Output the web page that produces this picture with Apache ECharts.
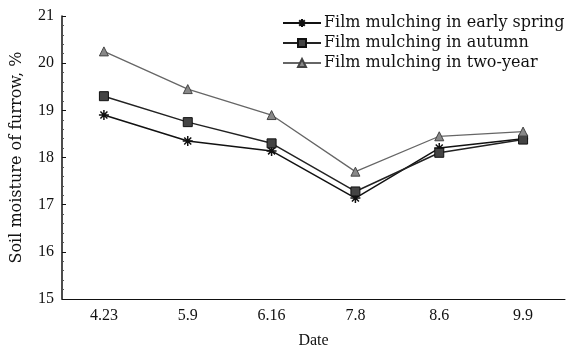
<!DOCTYPE html>
<html>
<head>
<meta charset="utf-8">
<script src="https://cdn.jsdelivr.net/npm/echarts@6/dist/echarts.min.js"></script>
<style>
html,body{margin:0;padding:0;background:#fff;}
#chart{width:569px;height:351px;}
</style>
</head>
<body>
<div id="chart"></div>
<script>
var dates = ["4.23", "5.9", "6.16", "7.8", "8.6", "9.9"];
var earlySpring = [18.9, 18.35, 18.14, 17.14, 18.2, 18.4];
var autumn = [19.3, 18.75, 18.3, 17.28, 18.1, 18.38];
var twoYear = [20.25, 19.45, 18.9, 17.7, 18.45, 18.55];
var seriesNames = ["Film mulching in early spring", "Film mulching in autumn", "Film mulching in two-year"];

var font = "Liberation Serif";
var wide = "DejaVu Serif";
var star = "path://M5,0L5,10M0,5L10,5M1.5,1.5L8.5,8.5M8.5,1.5L1.5,8.5";

var chart = echarts.init(document.getElementById("chart"));
chart.setOption({
	animation: false,
	backgroundColor: "#fff",
	textStyle: {fontFamily: font},
	grid: {left: 62, right: 4, top: 16, bottom: 52, outerBoundsMode: "none"},
	legend: {
		left: 277, top: 10, orient: "vertical", itemGap: 4,
		itemWidth: 38, itemHeight: 10,
		textStyle: {fontFamily: wide, fontSize: 16, color: "#111", padding: [0, 0, 0, -2]},
		data: seriesNames
	},
	xAxis: {
		type: "category", data: dates, boundaryGap: true,
		name: "Date", nameLocation: "middle", nameGap: 34,
		nameTextStyle: {fontFamily: font, fontSize: 16, color: "#111"},
		axisLine: {lineStyle: {color: "#111", width: 1}},
		axisTick: {inside: true, length: 4, lineStyle: {color: "#111"}},
		axisLabel: {fontFamily: font, fontSize: 16, color: "#111", margin: 9}
	},
	yAxis: {
		type: "value", min: 15, max: 21, interval: 1,
		name: "Soil moisture of furrow, %", nameLocation: "middle", nameGap: 37,
		nameTextStyle: {fontFamily: wide, fontSize: 16, color: "#111"},
		axisLine: {show: true, lineStyle: {color: "#111", width: 1.5}},
		axisTick: {show: true, inside: true, length: 4, lineStyle: {color: "#111"}},
		minorTick: {show: true, splitNumber: 5, length: 2, lineStyle: {color: "#555"}},
		splitLine: {show: false},
		axisLabel: {fontFamily: font, fontSize: 16, color: "#111", margin: 8}
	},
	series: [
		{
			name: seriesNames[0], type: "line", data: earlySpring,
			symbol: star, symbolSize: 10,
			lineStyle: {color: "#111", width: 1.5},
			itemStyle: {color: "#111", borderColor: "#111", borderWidth: 1.5}
		},
		{
			name: seriesNames[1], type: "line", data: autumn,
			symbol: "rect", symbolSize: 9,
			lineStyle: {color: "#222", width: 1.5},
			itemStyle: {color: "#444", borderColor: "#111", borderWidth: 1}
		},
		{
			name: seriesNames[2], type: "line", data: twoYear,
			symbol: "triangle", symbolSize: 9,
			lineStyle: {color: "#666", width: 1.3},
			itemStyle: {color: "#888", borderColor: "#444", borderWidth: 1}
		}
	]
});
</script>
</body>
</html>
